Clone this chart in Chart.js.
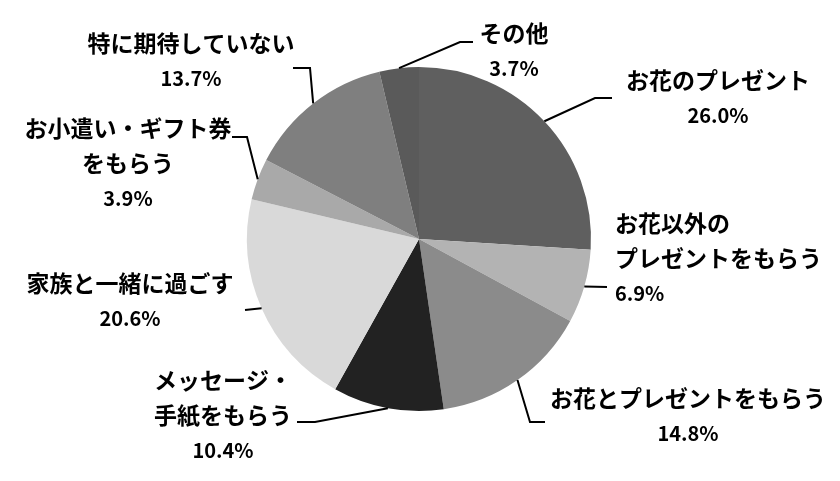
<!DOCTYPE html>
<html>
<head>
<meta charset="utf-8">
<script src="https://cdn.jsdelivr.net/npm/chart.js@4"></script>
<style>
  html, body { margin: 0; padding: 0; background: #fff; }
  .chart { width: 840px; height: 481px; }
</style>
</head>
<body>
<div class="chart">
  <canvas id="myChart" width="840" height="481"></canvas>
</div>
<script>
  // data
  const categories = ['お花のプレゼント', 'お花以外のプレゼントをもらう', 'お花とプレゼントをもらう', 'メッセージ・手紙をもらう', '家族と一緒に過ごす', 'お小遣い・ギフト券をもらう', '特に期待していない', 'その他'];
  const shares = [26.0, 6.9, 14.8, 10.4, 20.6, 3.9, 13.7, 3.7];
  const labelLines = [['お花のプレゼント'], ['お花以外の', 'プレゼントをもらう'], ['お花とプレゼントをもらう'], ['メッセージ・', '手紙をもらう'], ['家族と一緒に過ごす'], ['お小遣い・ギフト券', 'をもらう'], ['特に期待していない'], ['その他']];
  const sliceColors = ['#5f5f5f', '#b3b3b3', '#8b8b8b', '#222222', '#d9d9d9', '#a9a9a9', '#7f7f7f', '#5a5a5a'];

  // label placement, offsets from pie centre (text pos, then leader bends)
  const labelLayout = [
    { tx: 299, ty: -159, align: 'center', pts: [[176, -141], [193, -141]] },
    { tx: 196, ty: -16, align: 'left', pts: [[188, 48]] },
    { tx: 269, ty: 159, align: 'center', pts: [[111, 183], [126, 183]] },
    { tx: -196, ty: 141, align: 'center', pts: [[-104, 183], [-122, 183]] },
    { tx: -289, ty: 44, align: 'center', pts: [[-174, 71]] },
    { tx: -291, ty: -111, align: 'center', pts: [[-172, -102], [-187, -102]] },
    { tx: -228, ty: -196, align: 'center', pts: [[-109, -171], [-126, -171]] },
    { tx: 95, ty: -206, align: 'center', pts: [[41, -197], [54, -197]] },
  ];

  const outsideLabels = {
    id: 'outsideLabels',
    afterDraw(chart) {
      const ctx = chart.ctx;
      const meta = chart.getDatasetMeta(0);
      ctx.save();
      meta.data.forEach((arc, i) => {
        const p = arc.getProps(['x', 'y', 'startAngle', 'endAngle', 'outerRadius'], true);
        const mid = (p.startAngle + p.endAngle) / 2;
        const lay = labelLayout[i];

        // leader line
        ctx.strokeStyle = '#000';
        ctx.lineWidth = 2;
        ctx.beginPath();
        ctx.moveTo(p.x + Math.cos(mid) * p.outerRadius, p.y + Math.sin(mid) * p.outerRadius);
        lay.pts.forEach(pt => ctx.lineTo(p.x + pt[0], p.y + pt[1]));
        ctx.stroke();

        // text
        ctx.fillStyle = '#000';
        ctx.textAlign = lay.align;
        ctx.textBaseline = 'middle';
        const lines = labelLines[i];
        ctx.font = 'bold 23px "Noto Sans CJK JP"';
        lines.forEach((t, k) => {
          ctx.fillText(t, p.x + lay.tx, p.y + lay.ty + k * 35);
        });
        ctx.font = 'bold 20px "Noto Sans CJK JP"';
        ctx.fillText(shares[i].toFixed(1) + '%', p.x + lay.tx, p.y + lay.ty + lines.length * 35);
      });
      ctx.restore();
    }
  };

  const myChart = new Chart(document.getElementById('myChart'), {
    type: 'pie',
    data: {
      labels: categories,
      datasets: [{
        data: shares,
        backgroundColor: sliceColors,
        borderWidth: 0,
      }],
    },
    options: {
      responsive: false,
      animation: false,
      layout: { padding: { top: 67, bottom: 70, left: 247, right: 249 } },
      plugins: {
        legend: { display: false },
        tooltip: { enabled: false },
      },
    },
    plugins: [outsideLabels],
  });
</script>
</body>
</html>
